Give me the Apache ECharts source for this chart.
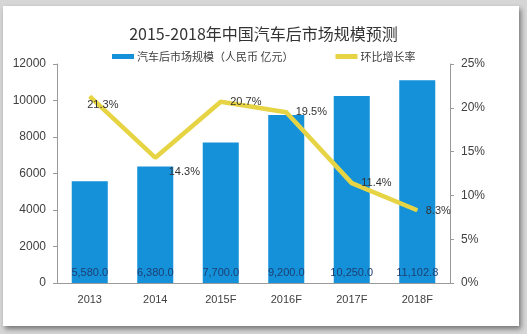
<!DOCTYPE html>
<html>
<head>
<meta charset="utf-8">
<script src="https://cdn.jsdelivr.net/npm/echarts@6/dist/echarts.min.js"></script>
<style>
  html, body { margin: 0; padding: 0; }
  body { width: 527px; height: 334px; background: #d6d6d6; position: relative; overflow: hidden; }
  #card { position: absolute; left: 3px; top: 6px; width: 516px; height: 320px; background: #ffffff;
          box-shadow: 2px 3px 5px rgba(0,0,0,0.45); }
  #chart { position: absolute; left: 0; top: 0; width: 527px; height: 334px; }
</style>
</head>
<body>
<div id="card"></div>
<div id="chart"></div>
<script>
const titleText = '2015-2018年中国汽车后市场规模预测';
const categories = ['2013', '2014', '2015F', '2016F', '2017F', '2018F'];
const marketSize = [5580.0, 6380.0, 7700.0, 9200.0, 10250.0, 11102.8];
const growthRate = [21.3, 14.3, 20.7, 19.5, 11.4, 8.3];
const seriesNames = ['汽车后市场规模（人民币 亿元）', '环比增长率'];

function fmtNum(v) {
  const s = v.toFixed(1);
  const parts = s.split('.');
  parts[0] = parts[0].replace(/\B(?=(\d{3})+(?!\d))/g, ',');
  return parts.join('.');
}

const labelOffsets = [[-12, 9], [4, 14], [0, 0], [0, 0], [0, 0], [-1, 1]];

const font = '"Liberation Sans", "Noto Sans CJK SC", sans-serif';
const chart = echarts.init(document.getElementById('chart'), null, { renderer: 'canvas' });
chart.setOption({
  backgroundColor: 'transparent',
  animation: false,
  textStyle: { fontFamily: font },
  title: {
    text: titleText,
    left: 'center',
    top: 21,
    textStyle: { fontSize: 16, fontWeight: 'normal', color: '#333333', fontFamily: '"Noto Sans CJK SC", sans-serif' }
  },
  legend: {
    left: 107,
    top: 46,
    itemWidth: 22,
    itemHeight: 5,
    itemGap: 42,
    textStyle: { fontSize: 11, color: '#404040', fontFamily: '"Noto Sans CJK SC", sans-serif', padding: [0, 0, 0, -2] },
    data: [
      { name: seriesNames[0], icon: 'rect' },
      { name: seriesNames[1], icon: 'rect' }
    ]
  },
  grid: { left: 57, right: 77, top: 64, bottom: 51, containLabel: false },
  xAxis: {
    type: 'category',
    data: categories,
    axisLine: { lineStyle: { color: '#9a9a9a', width: 1 } },
    axisTick: { show: false },
    axisLabel: { color: '#404040', fontSize: 11, margin: 11 }
  },
  yAxis: [
    {
      type: 'value', min: 0, max: 12000, interval: 2000,
      axisLine: { show: true, lineStyle: { color: '#9a9a9a' } },
      axisTick: { show: true, length: 4, lineStyle: { color: '#9a9a9a' } },
      splitLine: { show: false },
      axisLabel: { color: '#404040', fontSize: 12, margin: 11, formatter: v => String(v) }
    },
    {
      type: 'value', min: 0, max: 25, interval: 5, position: 'right',
      axisLine: { show: true, lineStyle: { color: '#9a9a9a' } },
      axisTick: { show: true, length: 4, lineStyle: { color: '#9a9a9a' } },
      splitLine: { show: false },
      axisLabel: { color: '#404040', fontSize: 12, margin: 11, formatter: v => v + '%' }
    }
  ],
  series: [
    {
      name: seriesNames[0],
      type: 'bar',
      yAxisIndex: 0,
      data: marketSize,
      barWidth: '55%',
      itemStyle: { color: '#1591D9' },
      label: {
        show: true,
        position: 'insideBottom',
        distance: 5,
        color: '#1d3f73',
        fontSize: 11,
        formatter: p => fmtNum(p.value)
      }
    },
    {
      name: seriesNames[1],
      type: 'line',
      yAxisIndex: 1,
      data: growthRate.map((v, i) => ({
        value: v,
        label: { offset: labelOffsets[i] }
      })),
      symbol: 'circle',
      symbolSize: 1,
      showSymbol: true,
      lineStyle: { color: '#E6D444', width: 4.5 },
      itemStyle: { color: '#E6D444' },
      label: {
        show: true,
        position: 'right',
        distance: 9,
        color: '#333333',
        fontSize: 11,
        formatter: p => p.value.toFixed(1) + '%'
      },
      z: 5
    }
  ]
});
</script>
</body>
</html>
